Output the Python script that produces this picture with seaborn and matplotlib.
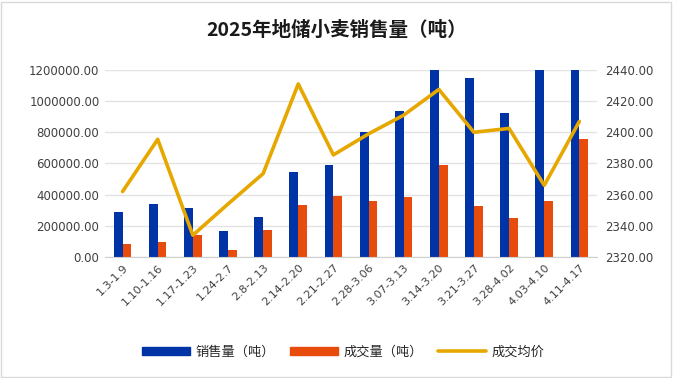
import numpy as np
import pandas as pd
import seaborn as sns
import matplotlib.pyplot as plt
from matplotlib.patches import Patch, Rectangle
from matplotlib.lines import Line2D

periods = ["1.3-1.9", "1.10-1.16", "1.17-1.23", "1.24-2.7", "2.8-2.13", "2.14-2.20",
           "2.21-2.27", "2.28-3.06", "3.07-3.13", "3.14-3.20", "3.21-3.27", "3.28-4.02",
           "4.03-4.10", "4.11-4.17"]
sales = [290000, 340000, 316000, 165000, 257000, 543000, 588000, 804000, 939000,
         1350000, 1149000, 922000, 1300000, 1320000]
deals = [81000, 96000, 139000, 47000, 173000, 332000, 391000, 357000, 385000,
         588000, 325000, 248000, 357000, 755000]
avg_price = [2362, 2395.5, 2334, 2354, 2373.5, 2431, 2385.5, 2399, 2411,
             2427.5, 2400, 2402.5, 2366, 2407]

blue = "#0033A6"
orange = "#E84C0C"
gold = "#E6A700"

sns.set_style("white")
plt.rcParams['font.family'] = ['Noto Sans CJK SC', 'DejaVu Sans']

df = pd.DataFrame({"period": periods * 2,
                   "value": sales + deals,
                   "kind": ["销售量（吨）"] * len(periods) + ["成交量（吨）"] * len(periods)})

fig = plt.figure(figsize=(6.73, 3.78), dpi=100)
ax = fig.add_axes([0.156, 0.32, 0.731, 0.495])

sns.barplot(data=df, x="period", y="value", hue="kind", ax=ax,
            palette=[blue, orange], width=0.5, gap=0, saturation=1,
            linewidth=0, legend=False)
ax.set_ylim(0, 1200000)
ax.set_xlim(-0.5, len(periods) - 0.5)
ax.set_yticks(np.arange(0, 1200001, 200000))
ax.set_yticklabels([f"{v:.2f}" for v in np.arange(0, 1200001, 200000)],
                   fontsize=8.5, color="#404040", family="DejaVu Sans")
ax.set_xlabel("")
ax.set_ylabel("")
ax.grid(axis="y", color="#e3e3e3", linewidth=1)
ax.set_axisbelow(True)
for s in ["top", "left", "right"]:
    ax.spines[s].set_visible(False)
ax.spines["bottom"].set_color("#d0d0d0")
ax.tick_params(axis="both", length=0, pad=4)
ax.set_xticks(range(len(periods)))
ax.set_xticklabels(periods, rotation=45, ha="right", rotation_mode="anchor",
                   fontsize=8, color="#404040", family="DejaVu Sans")

ax2 = ax.twinx()
sns.lineplot(x=np.arange(len(periods)), y=avg_price, ax=ax2, color=gold,
             linewidth=2.6)
ax2.set_ylim(2320, 2440)
ax2.set_yticks(np.arange(2320, 2441, 20))
ax2.set_yticklabels([f"{v:.2f}" for v in np.arange(2320, 2441, 20)],
                    fontsize=8.5, color="#404040", family="DejaVu Sans")
ax2.tick_params(axis="y", length=0, pad=6)
for s in ["top", "left", "right", "bottom"]:
    ax2.spines[s].set_visible(False)
ax2.set_xlim(-0.5, len(periods) - 0.5)

fig.text(0.5, 0.92, "2025年地储小麦销售量（吨）", ha="center", va="center",
         fontsize=14, fontweight="bold", color="#1a1a1a")

handles = [Patch(color=blue), Patch(color=orange), Line2D([], [], color=gold, linewidth=2.6)]
fig.legend(handles, ["销售量（吨）", "成交量（吨）", "成交均价"], loc="center",
           bbox_to_anchor=(0.51, 0.068), ncol=3, frameon=False, fontsize=9.5,
           handlelength=3.6, handleheight=0.6, columnspacing=1.2, handletextpad=0.4)

fig.patches.append(Rectangle((0.002, 0.003), 0.995, 0.993, transform=fig.transFigure,
                             fill=False, edgecolor="#d9d9d9", linewidth=1))

fig.savefig("out.png", dpi=100)
